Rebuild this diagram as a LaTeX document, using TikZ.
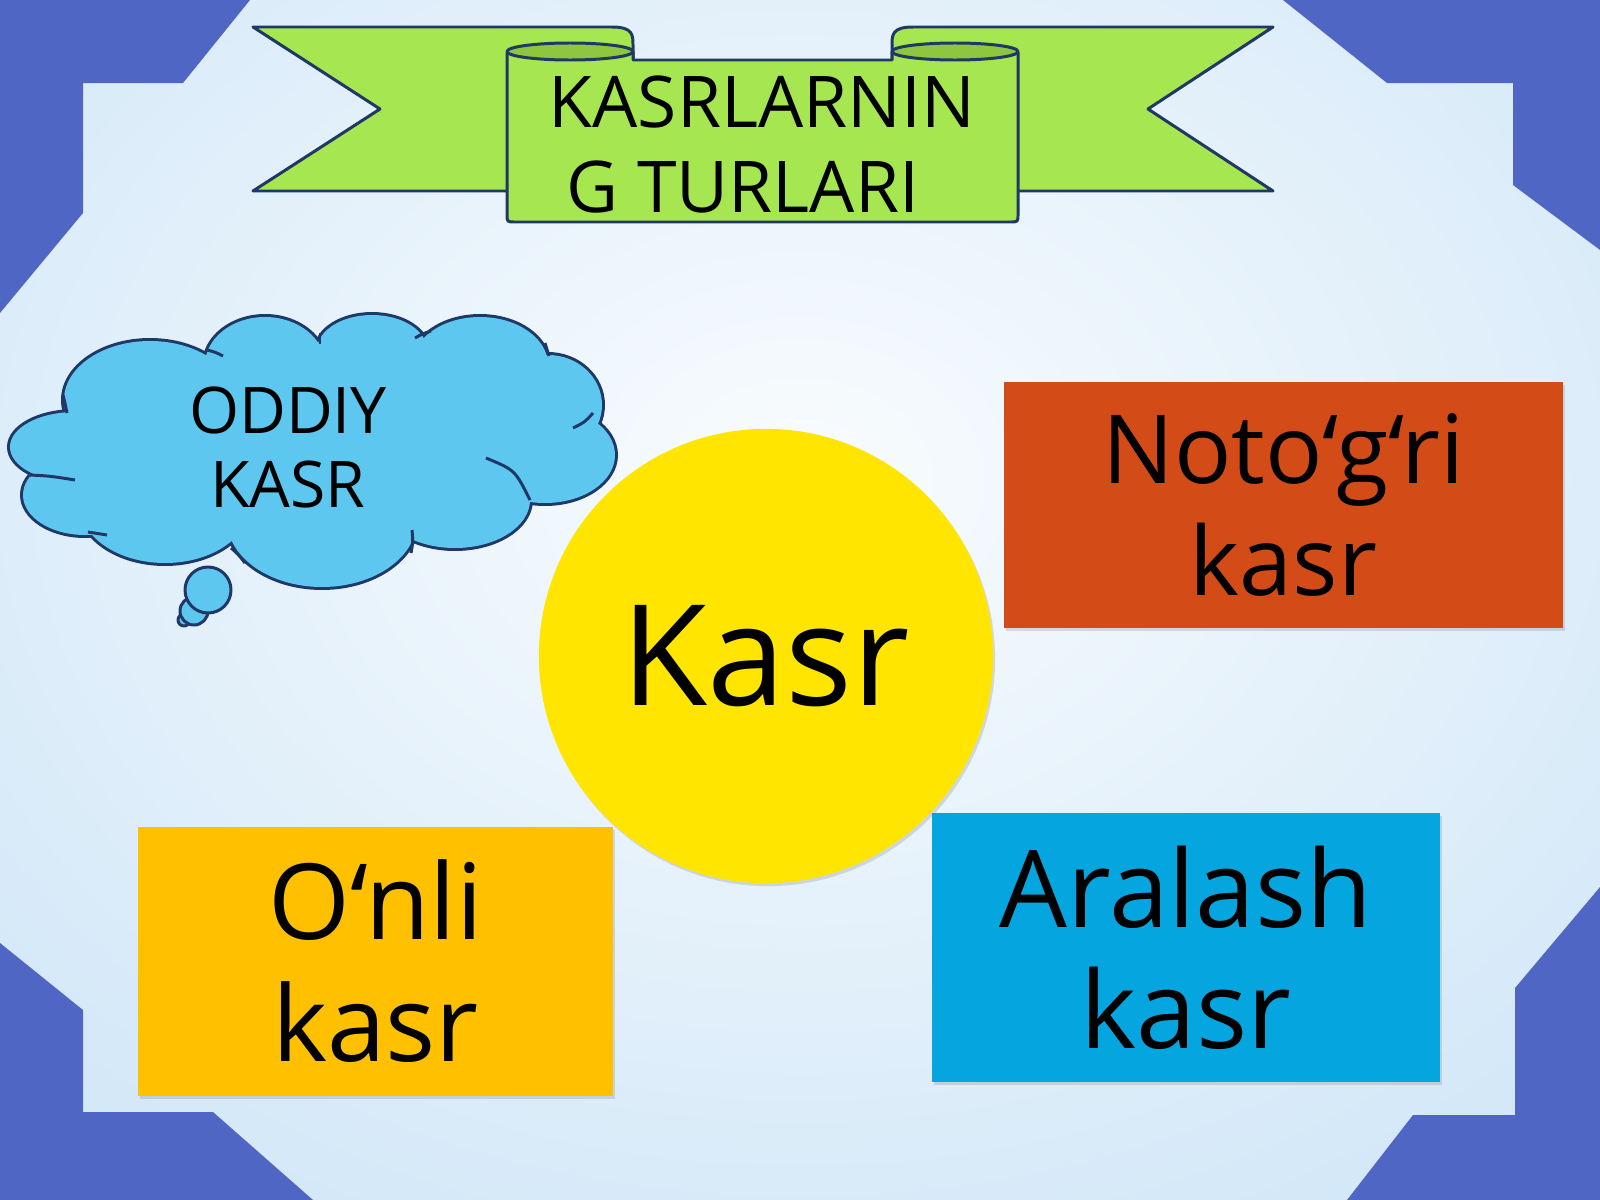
\documentclass[tikz,border=0pt]{standalone}
\usepackage{fontspec}
\setmainfont{Open Sans}
\usepackage{xcolor}
\usepackage{tikz}
\usetikzlibrary{positioning}
\usetikzlibrary{shadows}
\definecolor{cornerblue}{HTML}{5066C4}
\definecolor{bgouter}{HTML}{BBDBF4}
\definecolor{bginner}{HTML}{F9FCFE}
\definecolor{ribbongreen}{HTML}{A6E651}
\definecolor{curlgreen}{HTML}{8EC63F}
\definecolor{edgenavy}{HTML}{1F3866}
\definecolor{cloudblue}{HTML}{5EC7F0}
\definecolor{kasryellow}{HTML}{FFE500}
\definecolor{notored}{HTML}{D34C17}
\definecolor{onliorange}{HTML}{FFC000}
\definecolor{aralashblue}{HTML}{05A6E0}

\begin{document}
\begin{tikzpicture}[
    x=0.01cm, y=-0.01cm,
    outline/.style={draw=edgenavy, line width=0.85pt, line join=round},
    softshadow/.style={drop shadow={shadow xshift=0.02cm, shadow yshift=-0.03cm, opacity=0.25}},
    card/.style={
        rectangle,
        inner sep=0pt,
        align=center,
        softshadow}]
    \useasboundingbox (0,0) rectangle (1600,1200);

    % background and corners
    \begin{scope}
        \clip (0,0) rectangle (1600,1200);
        \shade[inner color=bginner, outer color=bgouter] (800,480) ellipse [x radius=1750, y radius=1350];
    \end{scope}
    \fill[cornerblue] (0,0) -- (250,0) -- (183,83) -- (83,83) -- (83,213) -- (0,313) -- cycle;
    \fill[cornerblue] (1600,0) -- (1283,0) -- (1387,83) -- (1513,83) -- (1513,185) -- (1600,250) -- cycle;
    \fill[cornerblue] (0,1200) -- (0,943) -- (83,1010) -- (83,1112) -- (213,1112) -- (313,1200) -- cycle;
    \fill[cornerblue] (1600,1200) -- (1600,887) -- (1515,988) -- (1515,1115) -- (1413,1115) -- (1347,1200) -- cycle;

    % ribbon
    \filldraw[outline, fill=ribbongreen] (253,27) -- (612,27) .. controls (633,27) and (633,35) .. (633,45) -- (633,191) -- (253,191) -- (380,109) -- cycle;
    \filldraw[outline, fill=ribbongreen] (1273,27) -- (913,27) .. controls (892,27) and (892,35) .. (892,45) -- (892,191) -- (1273,191) -- (1148,109) -- cycle;
    \filldraw[outline, fill=ribbongreen] (507,52) -- (507,214) .. controls (507,222) .. (515,222) -- (1010,222) .. controls (1018,222) .. (1018,214)
        -- (1018,52) -- (892,52) -- (892,60) -- (633,60) -- (633,52) -- cycle;
    \filldraw[outline, fill=curlgreen] (570,51.5) ellipse [x radius=63, y radius=8.5];
    \filldraw[outline, fill=curlgreen] (955,51.5) ellipse [x radius=63, y radius=8.5];
    \node[font=\fontsize{20.3}{23.9}\selectfont, align=center, inner sep=0pt] (title) at (762,144.5) {KASRLARNIN\\G TURLARI\hspace*{0.38cm}};

    % cloud
    \foreach \cx/\cy/\rx/\ry in {150/400/86/59, 265/365/60/48, 372/350/55/35, 480/365/68/48, 548/405/54/50,
                                 545/455/70/48, 455/500/75/48, 322/520/95/67, 165/505/85/58, 85/495/62/40, 75/447/65/35}
        \draw[edgenavy, line width=1.7pt] (\cx,\cy) ellipse [x radius=\rx, y radius=\ry];
    \foreach \cx/\cy/\rx/\ry in {150/400/86/59, 265/365/60/48, 372/350/55/35, 480/365/68/48, 548/405/54/50,
                                 545/455/70/48, 455/500/75/48, 322/520/95/67, 165/505/85/58, 85/495/62/40, 75/447/65/35, 320/440/240/90}
        \fill[cloudblue] (\cx,\cy) ellipse [x radius=\rx, y radius=\ry];
    \draw[outline] (63,395) .. controls (65,403) .. (67,413);
    \draw[outline] (30,475) .. controls (50,476) .. (75,480);
    \draw[outline] (88,532) .. controls (98,534) .. (107,535);
    \draw[outline] (231,548) .. controls (238,554) .. (245,563);
    \draw[outline] (412,530) .. controls (413,542) .. (411,553);
    \draw[outline] (486,458) .. controls (515,470) .. (530,500);
    \draw[outline] (573,428) .. controls (585,422) .. (593,413);
    \draw[outline] (545,343) .. controls (547,349) .. (549,356);
    \draw[outline] (415,338) .. controls (422,334) .. (431,331);
    \draw[outline] (320,333) .. controls (320,338) .. (320,344);
    \draw[outline] (207,350) .. controls (215,352) .. (223,356);
    \filldraw[outline, fill=cloudblue] (184,620) circle [radius=6];
    \filldraw[outline, fill=cloudblue] (194,611) circle [radius=14];
    \filldraw[outline, fill=cloudblue] (208,590) circle [radius=23];
    \node[font=\fontsize{18.3}{20.8}\selectfont, align=center, inner sep=0pt] (oddiy) at (288,447.5) {ODDIY\\KASR};

    % central circle and the three kinds
    \node[circle, fill=kasryellow, minimum size=4.54cm, inner sep=0pt, softshadow,
          font=\fontsize{39.9}{48}\selectfont] (kasr) at (766,656) {Kasr};
    \node[card, fill=notored, minimum width=5.59cm, minimum height=2.46cm,
          font=\fontsize{27.1}{31.6}\selectfont] (notogri) at (1283.5,505) {Noto‘g‘ri\\kasr};
    \node[card, fill=onliorange, minimum width=4.75cm, minimum height=2.69cm,
          font=\fontsize{29.9}{34.7}\selectfont] (onli) at (375.5,961.5) {O‘nli\\kasr};
    \node[card, fill=aralashblue, minimum width=5.08cm, minimum height=2.69cm,
          font=\fontsize{30.5}{34.4}\selectfont] (aralash) at (1186,947.5) {Aralash\\kasr};
\end{tikzpicture}
\end{document}
